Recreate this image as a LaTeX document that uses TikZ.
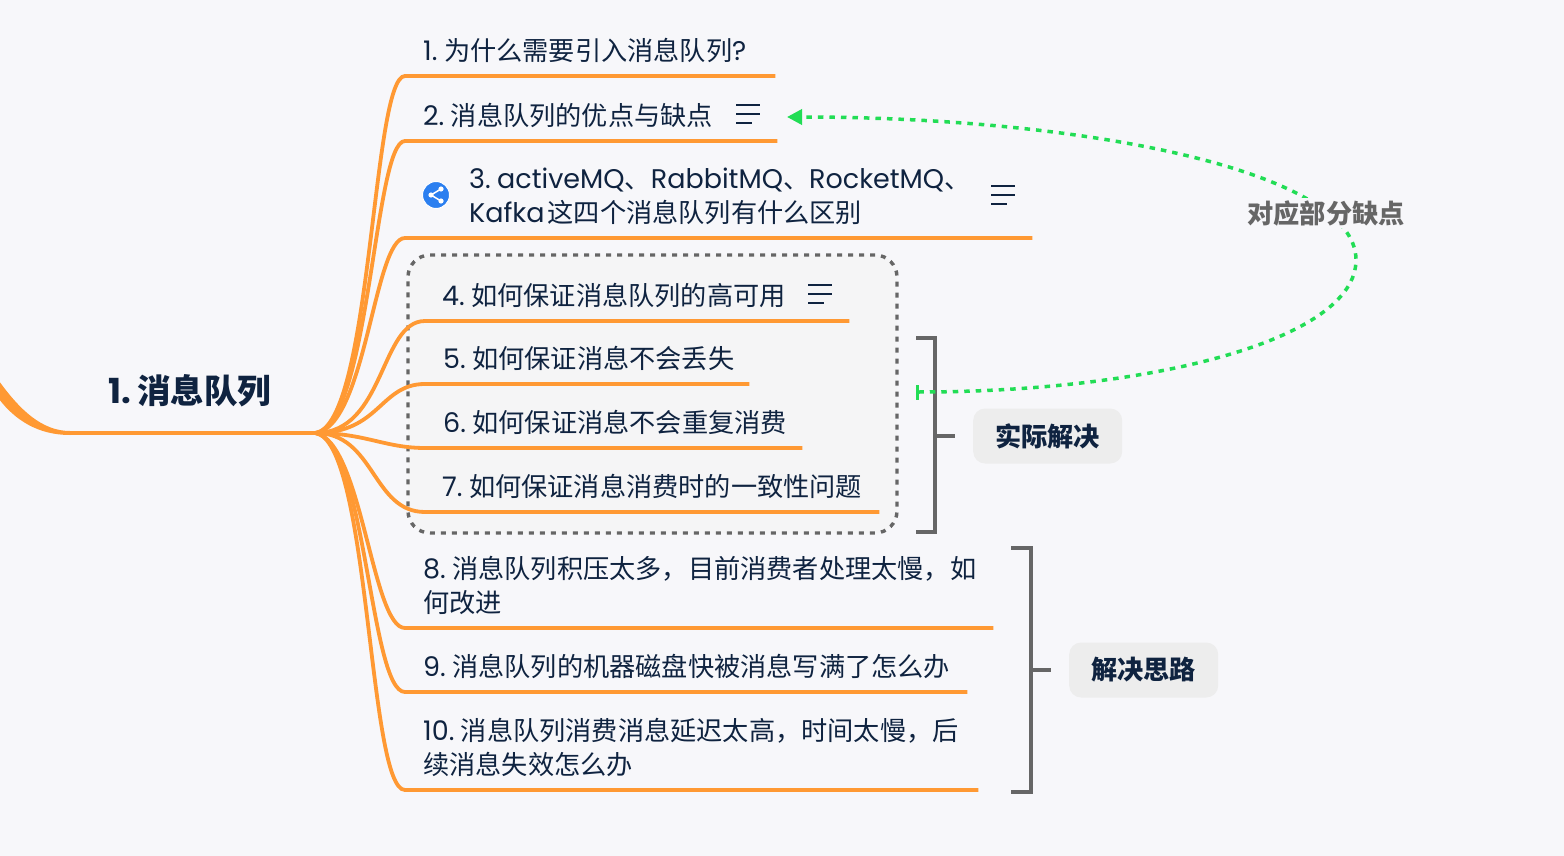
\documentclass[tikz,border=0pt]{standalone}
\usepackage{fontspec}
\setmainfont{Poppins}[Scale=1.03]
\newfontfamily\cjk{Noto Sans CJK SC}
\usetikzlibrary{arrows.meta, positioning}
\definecolor{pagebg}{HTML}{F7F7FA}
\definecolor{groupbg}{HTML}{F5F5F6}
\definecolor{branchc}{HTML}{FF9933}
\definecolor{inkc}{HTML}{0F2340}
\definecolor{bracketc}{HTML}{666666}
\definecolor{relc}{HTML}{22DD55}
\definecolor{tagbg}{HTML}{EDEDED}
\definecolor{sharec}{HTML}{2B7FF0}
\newcommand{\zh}[1]{{\cjk #1}}
\newcommand{\pad}[1][18pt]{\hspace*{#1}}
\tikzset{
    topic/.style={anchor=south west, align=left, inner xsep=0pt, inner ysep=5pt, text=inkc,
        font=\fontsize{26.2}{34}\selectfont,
        execute at begin node={\spaceskip=3pt\xspaceskip=6.5pt\strut}, execute at end node={\strut}},
    branch/.style={draw=branchc, line width=3.8pt},
    bracket/.style={draw=bracketc, line width=3.4pt},
    tag/.style={fill=tagbg, rounded corners=12pt, minimum width=149pt, minimum height=55pt, inner sep=0pt,
        text=inkc, font=\fontsize{26.2}{30}\selectfont\bfseries},
    noteicon/.pic={
        \draw[inkc, line width=2pt] (-12,-9) -- (12,-9) (-12,0) -- (12,0) (-12,9) -- (4,9);
    },
}
\begin{document}
\begin{tikzpicture}[x=1pt, y=-1pt]
    \useasboundingbox (0,0) rectangle (1564,856);
    \fill[pagebg] (0,0) rectangle (1564,856);

    % dashed frame goes under the branches
    \node[draw=bracketc, fill=groupbg, dash pattern=on 5pt off 6pt, line width=3.4pt, rounded corners=22pt,
        minimum width=489pt, minimum height=278pt] (group) at (652.5,394) {};

    \node[topic, text width=245pt, inner ysep=17.5pt,
        font=\fontsize{33.5}{40}\selectfont\bfseries] (root) at (70,433) {\pad[38pt]1. \zh{消息队列}};

    \node[topic, text width=370pt] (t1) at (405,76) {\pad 1. \zh{为什么需要引入消息队列}?};
    \node[topic, text width=372pt] (t2) at (405,141) {\pad 2. \zh{消息队列的优点与缺点}};
    \node[topic, text width=627pt] (t3) at (405,238) {\pad[64pt]3. activeMQ\zh{、}RabbitMQ\zh{、}RocketMQ\zh{、}\\\pad[64pt]Kafka \zh{这四个消息队列有什么区别}};
    \node[topic, text width=424pt] (t4) at (425,321) {\pad[17pt]4. \zh{如何保证消息队列的高可用}};
    \node[topic, text width=324pt] (t5) at (425,384) {\pad 5. \zh{如何保证消息不会丢失}};
    \node[topic, text width=377pt] (t6) at (425,448) {\pad 6. \zh{如何保证消息不会重复消费}};
    \node[topic, text width=454pt] (t7) at (425,512) {\pad[17pt]7. \zh{如何保证消息消费时的一致性问题}};
    \node[topic, text width=588pt] (t8) at (405,628) {\pad 8. \zh{消息队列积压太多，目前消费者处理太慢，如}\\\pad\zh{何改进}};
    \node[topic, text width=562pt] (t9) at (405,692) {\pad 9. \zh{消息队列的机器磁盘快被消息写满了怎么办}};
    \node[topic, text width=573pt] (t10) at (405,790) {\pad 10. \zh{消息队列消费消息延迟太高，时间太慢，后}\\\pad\zh{续消息失效怎么办}};

    % incoming branch, wider towards the page edge
    \fill[branchc] (-1,381) .. controls (20,410) and (42,431) .. ([yshift=2pt]root.south west)
        -- ([yshift=-2pt]root.south west) .. controls (38,435) and (15,420) .. (-1,399) -- cycle;
    \draw[branch] (root.south west) -- (root.south east);

    % branches
    \draw[branch] (root.south east) .. controls (372,425) and (372,76) .. (t1.south west) -- (t1.south east);
    \draw[branch] (root.south east) .. controls (370,425) and (374,141) .. (t2.south west) -- (t2.south east);
    \draw[branch] (root.south east) .. controls (366,427) and (374,238) .. (t3.south west) -- (t3.south east);
    \draw[branch] (root.south east) .. controls (385,433) and (380,321) .. (t4.south west) -- (t4.south east);
    \draw[branch] (root.south east) .. controls (380,433) and (380,384) .. (t5.south west) -- (t5.south east);
    \draw[branch] (root.south east) .. controls (365,433) and (385,448) .. (t6.south west) -- (t6.south east);
    \draw[branch] (root.south east) .. controls (375,433) and (372,512) .. (t7.south west) -- (t7.south east);
    \draw[branch] (root.south east) .. controls (362,441) and (372,628) .. (t8.south west) -- (t8.south east);
    \draw[branch] (root.south east) .. controls (366,441) and (370,692) .. (t9.south west) -- (t9.south east);
    \draw[branch] (root.south east) .. controls (370,441) and (368,790) .. (t10.south west) -- (t10.south east);

    % note marks and the share badge
    \pic at (748,114) {noteicon};
    \pic at (1003,195) {noteicon};
    \pic at (820,294) {noteicon};
    \node[circle, fill=sharec, draw=white, line width=1pt, minimum size=27pt, inner sep=0pt] (share) at (436,195) {};
    \draw[white, line width=1.5pt] ([shift={(5,-6)}]share.center) -- ([shift={(-5,0)}]share.center) -- ([shift={(5,6)}]share.center);
    \fill[white] ([shift={(5,-6)}]share.center) circle (2.6pt) ([shift={(-5,0)}]share.center) circle (2.6pt) ([shift={(5,6)}]share.center) circle (2.6pt);

    % brackets with their tags
    \coordinate (fixtop) at (916,338);
    \coordinate (fixbot) at (916,532);
    \coordinate (fixmid) at (935,436);
    \coordinate[right=20pt of fixmid] (fixtick);
    \node[tag, right=18pt of fixtick] (fix) {\zh{实际解决}};
    \draw[bracket] (fixtop) -| (fixmid) |- (fixbot);
    \draw[bracket] (fixmid) -- (fixtick);

    \coordinate (ideatop) at (1011,548);
    \coordinate (ideabot) at (1011,792);
    \coordinate (ideamid) at (1031,670);
    \coordinate[right=20pt of ideamid] (ideatick);
    \node[tag, right=18pt of ideatick] (idea) {\zh{解决思路}};
    \draw[bracket] (ideatop) -| (ideamid) |- (ideabot);
    \draw[bracket] (ideamid) -- (ideatick);

    % relation back to topic 2
    \coordinate (relstart) at (916,392);
    \coordinate (relturn) at (1356,260);
    \coordinate (relend) at (787,117);
    \draw[relc, line width=3.5pt, dash pattern=on 5.5pt off 6pt, {Bar[width=15pt,line width=3pt]}-{Triangle[length=15pt,width=15pt]}]
        (relstart) .. controls (1150,392) and (1356,340) .. (relturn)
        .. controls (1356,170) and (1080,117) .. (relend);
    \node[fill=pagebg, inner xsep=0pt, inner ysep=2pt, text=bracketc, font=\fontsize{26.2}{30}\selectfont\bfseries] (rellabel) at (1326,213) {\zh{对应部分缺点}};
\end{tikzpicture}
\end{document}
